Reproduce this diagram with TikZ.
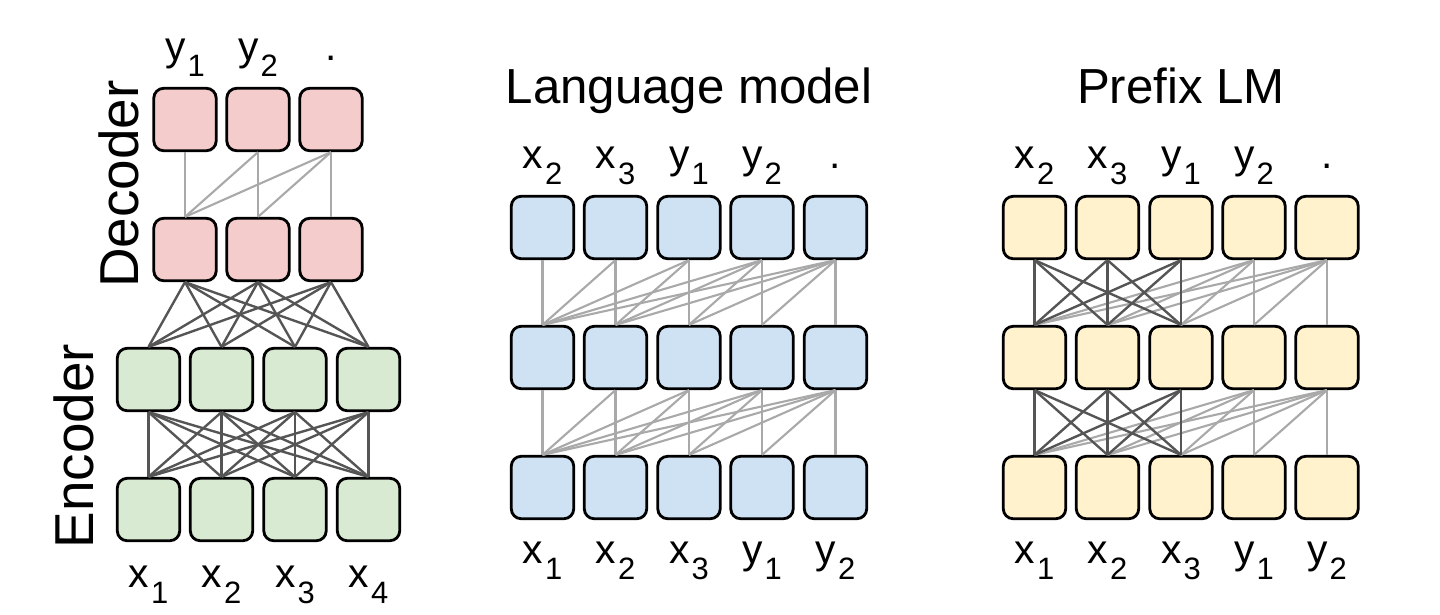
\documentclass[tikz,border=0pt]{standalone}
\usepackage{fontspec}
\setmainfont{Liberation Sans}

\definecolor{decfill}{HTML}{F4CCCC}
\definecolor{encfill}{HTML}{D9EAD3}
\definecolor{lmfill}{HTML}{CFE2F3}
\definecolor{prefill}{HTML}{FFF2CC}
\definecolor{linedark}{HTML}{555555}
\definecolor{linelight}{HTML}{A9A9A9}

% token label with a lowered index
\newcommand{\tok}[2]{#1\kern1.5pt\raisebox{-0.4em}{\fontsize{22}{22}\selectfont #2}}

\begin{document}
\begin{tikzpicture}[
  x=0.025cm,
  y=-0.025cm,
  cell/.style={draw=black,line width=2pt,rounded corners=7pt,minimum width=1.56cm,minimum height=1.56cm,inner sep=0pt},
  dec/.style={cell,fill=decfill},
  enc/.style={cell,fill=encfill},
  lm/.style={cell,fill=lmfill},
  pre/.style={cell,fill=prefill},
  strong/.style={draw=linedark,line width=1.7pt},
  weak/.style={draw=linelight,line width=1.5pt},
  token/.style={font=\fontsize{29}{29}\selectfont,anchor=base,inner sep=0pt},
  title/.style={font=\fontsize{35}{35}\selectfont,anchor=base,inner sep=0pt},
  side/.style={font=\fontsize{39}{39}\selectfont,anchor=base,rotate=90,inner sep=0pt}
]
\useasboundingbox (0,0) rectangle (1440,614);

% Encoder-decoder
\node[side] (declabel) at (138,184) {Decoder};
\node[side] (enclabel) at (93,446) {Encoder};
\foreach \i/\x in {1/185,2/258,3/331}{
  \node[dec] (dt\i) at (\x,119.5) {};
  \node[dec] (db\i) at (\x,249.5) {};
}
\foreach \i/\x in {1/148.5,2/221.5,3/295,4/368.5}{
  \node[enc] (et\i) at (\x,379.5) {};
  \node[enc] (eb\i) at (\x,509.5) {};
}
\node[token] (dy1) at (185,60) {\tok{y}{1}};
\node[token] (dy2) at (258,60) {\tok{y}{2}};
\node[token] (dend) at (331,60) {.};
\node[token] (ex1) at (148.5,587) {\tok{x}{1}};
\node[token] (ex2) at (221.5,587) {\tok{x}{2}};
\node[token] (ex3) at (295,587) {\tok{x}{3}};
\node[token] (ex4) at (368.5,587) {\tok{x}{4}};

\foreach \i in {1,2,3}{
  \foreach \j in {1,...,\i}
    \draw[weak] (dt\i.south) -- (db\j.north);
  \foreach \j in {1,...,4}
    \draw[strong] (db\i.south) -- (et\j.north);
}
\foreach \i in {1,...,4}{
  \foreach \j in {1,...,4}
    \draw[strong] (et\i.south) -- (eb\j.north);
}

% Language model
\node[title] (lmtitle) at (689,103) {Language model};
\foreach \i/\x in {1/542.5,2/615.5,3/689,4/762,5/835.5}{
  \node[lm] (lma\i) at (\x,227.5) {};
  \node[lm] (lmb\i) at (\x,357.5) {};
  \node[lm] (lmc\i) at (\x,487.5) {};
}
\foreach \i/\x/\t in {1/542.5/\tok{x}{2},2/615.5/\tok{x}{3},3/689/\tok{y}{1},4/762/\tok{y}{2},5/835.5/.}
  \node[token] (lmout\i) at (\x,168) {\t};
\foreach \i/\x/\t in {1/542.5/\tok{x}{1},2/615.5/\tok{x}{2},3/689/\tok{x}{3},4/762/\tok{y}{1},5/835.5/\tok{y}{2}}
  \node[token] (lmin\i) at (\x,563) {\t};

\foreach \r/\s in {a/b,b/c}{
  \foreach \i in {1,...,5}{
    \foreach \j in {1,...,\i}
      \draw[weak] (lm\r\i.south) -- (lm\s\j.north);
  }
}

% Prefix LM
\node[title] (pretitle) at (1181,103) {Prefix LM};
\foreach \i/\x in {1/1034.5,2/1107.5,3/1181,4/1254,5/1327}{
  \node[pre] (pa\i) at (\x,227.5) {};
  \node[pre] (pb\i) at (\x,357.5) {};
  \node[pre] (pc\i) at (\x,487.5) {};
}
\foreach \i/\x/\t in {1/1034.5/\tok{x}{2},2/1107.5/\tok{x}{3},3/1181/\tok{y}{1},4/1254/\tok{y}{2},5/1327/.}
  \node[token] (pout\i) at (\x,168) {\t};
\foreach \i/\x/\t in {1/1034.5/\tok{x}{1},2/1107.5/\tok{x}{2},3/1181/\tok{x}{3},4/1254/\tok{y}{1},5/1327/\tok{y}{2}}
  \node[token] (pin\i) at (\x,563) {\t};

\foreach \r/\s in {a/b,b/c}{
  \foreach \i in {4,5}{
    \foreach \j in {1,...,\i}
      \draw[weak] (p\r\i.south) -- (p\s\j.north);
  }
  \foreach \i in {1,2,3}{
    \foreach \j in {1,2,3}
      \draw[strong] (p\r\i.south) -- (p\s\j.north);
  }
}

\end{tikzpicture}
\end{document}
